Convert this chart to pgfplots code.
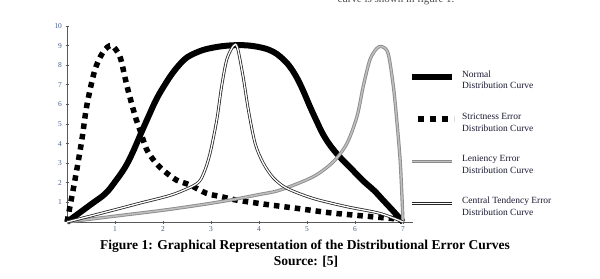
\documentclass[border=0pt]{standalone}
\usepackage{fontspec}
\setmainfont{Liberation Serif}
\usepackage{pgfplots}
\pgfplotsset{compat=1.18}
\definecolor{ticklab}{RGB}{70,90,140}
\definecolor{legtext}{RGB}{25,25,50}
\begin{document}
\begin{tikzpicture}[x=1bp,y=1bp]
\path[use as bounding box] (0,0) rectangle (600,278);
\clip (0,0) rectangle (600,278);
\node[anchor=base west, font=\fontsize{11}{13}\selectfont, text=black!70] at (334,276) {curve is shown in figure 1.};
\begin{axis}[
  at={(67bp,56bp)}, anchor=south west, scale only axis,
  width=345.6bp, height=196bp,
  xmin=0, xmax=7.2, ymin=0, ymax=10,
  axis x line=bottom, axis y line=left,
  axis line style={-, line width=0.8pt, black!65},
  xtick={1,...,7}, ytick={1,...,10},
  tick style={black!65, line width=0.8pt},
  major tick length=3bp,
  tick label style={font=\fontsize{7.5}{8}\selectfont, text=ticklab},
  /pgf/number format/assume math mode=true,
  clip=false,
  legend cell align=left,
  legend style={at={(0.98,0.80)}, anchor=north west, draw=none, fill=none,
    row sep=23bp, font=\fontsize{9.5}{11.5}\selectfont, text=legtext,
    column sep=3bp},
  legend image code/.code={\draw[#1] (0bp,0bp) -- (40bp,0bp);},
]
% Normal
\addplot[black, line width=6bp, smooth, tension=0.6] coordinates {
(0,0) (0.5,0.9) (0.8,1.45) (1.0,2.05) (1.2,2.75) (1.35,3.45) (1.52,4.4) (1.7,5.4)
(1.87,6.3) (2.05,7.05) (2.2,7.6) (2.35,8.05) (2.5,8.4) (2.7,8.65) (2.9,8.82)
(3.2,8.96) (3.5,9.02) (3.8,9.0) (4.1,8.87) (4.3,8.68) (4.45,8.42) (4.62,8.0)
(4.78,7.4) (4.92,6.7) (5.06,5.9) (5.2,5.15) (5.34,4.45) (5.5,3.85) (5.69,3.3)
(5.95,2.65) (6.17,2.1) (6.4,1.6) (6.59,1.1) (6.8,0.55) (7,0)};
\addlegendentry{\begin{tabular}{@{}l@{}}Normal\\Distribution Curve\end{tabular}}
% Strictness
\addplot[black, line width=5.5bp, dash pattern=on 5.5bp off 5bp, smooth, tension=0.5,
  legend image code/.code={\draw[black, line width=6.5bp, dash pattern=on 6.5bp off 5.5bp] (6bp,0bp) -- (42bp,0bp);}] coordinates {
(0,0) (0.17,2.2) (0.31,4.2) (0.41,5.9) (0.58,7.75) (0.76,8.7) (0.93,9.0) (1.10,8.45)
(1.21,7.35) (1.28,6.65) (1.42,5.4) (1.52,4.69) (1.66,3.7) (1.83,3.08) (2.0,2.65)
(2.28,2.14) (2.56,1.89) (2.91,1.46) (3.22,1.29) (3.53,1.12) (4.2,0.88) (4.78,0.7)
(5.48,0.47) (6.17,0.31) (6.87,0.15) (7,0)};
\addlegendentry{\begin{tabular}{@{}l@{}}Strictness Error\\Distribution Curve\end{tabular}}
% Leniency
\addplot[gray!90, line width=0.9bp, double=gray!50, double distance=1.5bp, smooth, tension=0.5] coordinates {
(0,0) (1.0,0.3) (2.0,0.6) (2.8,0.88) (3.4,1.12) (4.0,1.4) (4.44,1.63) (5.13,2.31)
(5.55,3.08) (5.83,4.0) (6.04,5.37) (6.17,6.9) (6.31,8.27) (6.45,8.85) (6.56,8.95)
(6.69,8.6) (6.80,6.9) (6.87,5.2) (6.94,3.16) (6.98,1.2) (7,0)};
\addlegendentry{\begin{tabular}{@{}l@{}}Leniency Error\\Distribution Curve\end{tabular}}
% Central tendency
\addplot[black!85, line width=0.8bp, double=white, double distance=1.3bp, smooth, tension=0.5] coordinates {
(0,0) (0.8,0.5) (1.5,0.95) (2.2,1.4) (2.7,1.95) (2.85,2.5) (2.98,3.5) (3.12,5.2)
(3.22,6.9) (3.33,8.3) (3.47,9.0) (3.55,8.9) (3.67,7.4) (3.78,5.7) (3.92,4.0)
(4.09,3.0) (4.3,2.25) (4.58,1.72) (5.13,1.2) (5.83,0.78) (6.52,0.44) (7,0)};
\addlegendentry{\begin{tabular}{@{}l@{}}Central Tendency Error\\Distribution Curve\end{tabular}}
\end{axis}
\node[anchor=base, font=\bfseries\fontsize{13.6}{15}\selectfont] at (305,29) {Figure 1: Graphical Representation of the Distributional Error Curves};
\node[anchor=base, font=\bfseries\fontsize{13.6}{15}\selectfont] at (306,13) {Source: [5]};
\end{tikzpicture}
\end{document}
